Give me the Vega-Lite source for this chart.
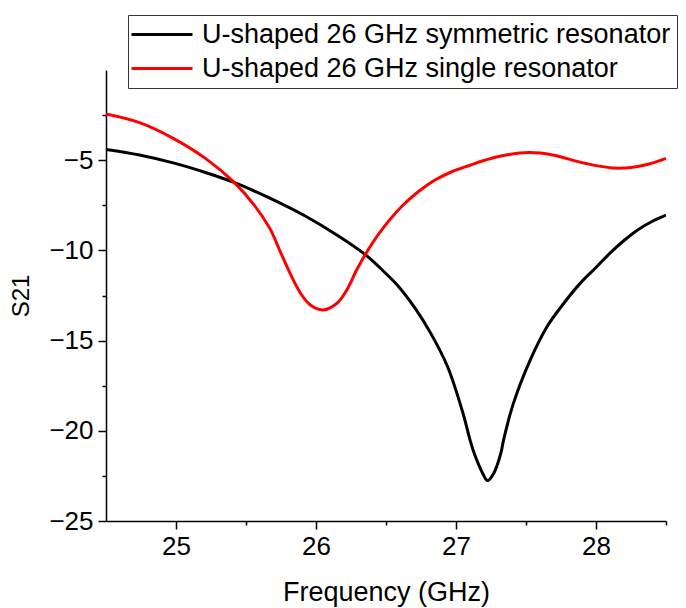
{
  "$schema": "https://vega.github.io/schema/vega-lite/v6.json",
  "width": 560,
  "height": 451,
  "autosize": {"type": "none"},
  "padding": {"left": 106, "top": 70, "right": 20, "bottom": 87},
  "background": "white",
  "config": {
    "view": {"stroke": null},
    "font": "Liberation Sans",
    "axis": {"grid": false, "domainColor": "black", "tickColor": "black", "labelColor": "black", "titleColor": "black", "domainWidth": 1.5, "tickWidth": 1.5, "labelFont": "Liberation Sans", "titleFont": "Liberation Sans", "titleFontWeight": "normal"}
  },
  "data": {
    "values": [
      {"f": 24.5, "s": -4.40, "series": "U-shaped 26 GHz symmetric resonator"},
      {"f": 24.74, "s": -4.71, "series": "U-shaped 26 GHz symmetric resonator"},
      {"f": 24.98, "s": -5.15, "series": "U-shaped 26 GHz symmetric resonator"},
      {"f": 25.21, "s": -5.68, "series": "U-shaped 26 GHz symmetric resonator"},
      {"f": 25.41, "s": -6.22, "series": "U-shaped 26 GHz symmetric resonator"},
      {"f": 25.67, "s": -7.1, "series": "U-shaped 26 GHz symmetric resonator"},
      {"f": 25.92, "s": -8.08, "series": "U-shaped 26 GHz symmetric resonator"},
      {"f": 26.16, "s": -9.2, "series": "U-shaped 26 GHz symmetric resonator"},
      {"f": 26.35, "s": -10.22, "series": "U-shaped 26 GHz symmetric resonator"},
      {"f": 26.46, "s": -10.99, "series": "U-shaped 26 GHz symmetric resonator"},
      {"f": 26.58, "s": -11.92, "series": "U-shaped 26 GHz symmetric resonator"},
      {"f": 26.70, "s": -13.12, "series": "U-shaped 26 GHz symmetric resonator"},
      {"f": 26.82, "s": -14.6, "series": "U-shaped 26 GHz symmetric resonator"},
      {"f": 26.94, "s": -16.45, "series": "U-shaped 26 GHz symmetric resonator"},
      {"f": 27.05, "s": -19.03, "series": "U-shaped 26 GHz symmetric resonator"},
      {"f": 27.10, "s": -20.5, "series": "U-shaped 26 GHz symmetric resonator"},
      {"f": 27.13, "s": -21.25, "series": "U-shaped 26 GHz symmetric resonator"},
      {"f": 27.19, "s": -22.35, "series": "U-shaped 26 GHz symmetric resonator"},
      {"f": 27.225, "s": -22.76, "series": "U-shaped 26 GHz symmetric resonator"},
      {"f": 27.27, "s": -22.35, "series": "U-shaped 26 GHz symmetric resonator"},
      {"f": 27.32, "s": -21.25, "series": "U-shaped 26 GHz symmetric resonator"},
      {"f": 27.34, "s": -20.5, "series": "U-shaped 26 GHz symmetric resonator"},
      {"f": 27.41, "s": -18.48, "series": "U-shaped 26 GHz symmetric resonator"},
      {"f": 27.53, "s": -16.08, "series": "U-shaped 26 GHz symmetric resonator"},
      {"f": 27.65, "s": -14.23, "series": "U-shaped 26 GHz symmetric resonator"},
      {"f": 27.77, "s": -12.93, "series": "U-shaped 26 GHz symmetric resonator"},
      {"f": 27.89, "s": -11.8, "series": "U-shaped 26 GHz symmetric resonator"},
      {"f": 28.0, "s": -10.95, "series": "U-shaped 26 GHz symmetric resonator"},
      {"f": 28.1, "s": -10.15, "series": "U-shaped 26 GHz symmetric resonator"},
      {"f": 28.2, "s": -9.45, "series": "U-shaped 26 GHz symmetric resonator"},
      {"f": 28.3, "s": -8.85, "series": "U-shaped 26 GHz symmetric resonator"},
      {"f": 28.4, "s": -8.4, "series": "U-shaped 26 GHz symmetric resonator"},
      {"f": 28.5, "s": -8.05, "series": "U-shaped 26 GHz symmetric resonator"},
      {"f": 24.5, "s": -2.44, "series": "U-shaped 26 GHz single resonator"},
      {"f": 24.74, "s": -2.92, "series": "U-shaped 26 GHz single resonator"},
      {"f": 24.98, "s": -3.79, "series": "U-shaped 26 GHz single resonator"},
      {"f": 25.21, "s": -4.9, "series": "U-shaped 26 GHz single resonator"},
      {"f": 25.41, "s": -6.19, "series": "U-shaped 26 GHz single resonator"},
      {"f": 25.56, "s": -7.5, "series": "U-shaped 26 GHz single resonator"},
      {"f": 25.67, "s": -8.78, "series": "U-shaped 26 GHz single resonator"},
      {"f": 25.75, "s": -10.16, "series": "U-shaped 26 GHz single resonator"},
      {"f": 25.82, "s": -11.36, "series": "U-shaped 26 GHz single resonator"},
      {"f": 25.89, "s": -12.38, "series": "U-shaped 26 GHz single resonator"},
      {"f": 25.96, "s": -13.03, "series": "U-shaped 26 GHz single resonator"},
      {"f": 26.05, "s": -13.3, "series": "U-shaped 26 GHz single resonator"},
      {"f": 26.15, "s": -12.93, "series": "U-shaped 26 GHz single resonator"},
      {"f": 26.22, "s": -12.2, "series": "U-shaped 26 GHz single resonator"},
      {"f": 26.29, "s": -11.09, "series": "U-shaped 26 GHz single resonator"},
      {"f": 26.35, "s": -10.25, "series": "U-shaped 26 GHz single resonator"},
      {"f": 26.46, "s": -8.96, "series": "U-shaped 26 GHz single resonator"},
      {"f": 26.61, "s": -7.58, "series": "U-shaped 26 GHz single resonator"},
      {"f": 26.73, "s": -6.75, "series": "U-shaped 26 GHz single resonator"},
      {"f": 26.85, "s": -6.10, "series": "U-shaped 26 GHz single resonator"},
      {"f": 26.97, "s": -5.64, "series": "U-shaped 26 GHz single resonator"},
      {"f": 27.1, "s": -5.28, "series": "U-shaped 26 GHz single resonator"},
      {"f": 27.21, "s": -4.99, "series": "U-shaped 26 GHz single resonator"},
      {"f": 27.33, "s": -4.75, "series": "U-shaped 26 GHz single resonator"},
      {"f": 27.52, "s": -4.58, "series": "U-shaped 26 GHz single resonator"},
      {"f": 27.69, "s": -4.71, "series": "U-shaped 26 GHz single resonator"},
      {"f": 27.92, "s": -5.17, "series": "U-shaped 26 GHz single resonator"},
      {"f": 28.16, "s": -5.45, "series": "U-shaped 26 GHz single resonator"},
      {"f": 28.35, "s": -5.27, "series": "U-shaped 26 GHz single resonator"},
      {"f": 28.5, "s": -4.90, "series": "U-shaped 26 GHz single resonator"}
    ]
  },
  "resolve": {"axis": {"x": "independent", "y": "independent"}},
  "layer": [
    {
      "mark": {"type": "line", "interpolate": "catmull-rom", "strokeWidth": 3, "clip": true},
      "encoding": {
        "x": {"field": "f", "type": "quantitative", "scale": {"domain": [24.5, 28.5], "nice": false, "zero": false},
          "axis": {"orient": "bottom", "values": [25, 26, 27, 28], "tickSize": 8, "labelFontSize": 26, "labelPadding": 4, "title": "Frequency (GHz)", "titleFontSize": 27, "titlePadding": 20}},
        "y": {"field": "s", "type": "quantitative", "scale": {"domain": [-25, 0], "nice": false, "zero": false},
          "axis": {"orient": "left", "values": [-25, -20, -15, -10, -5], "tickSize": 8, "labelFontSize": 26, "labelPadding": 5, "title": "S21", "titleFontSize": 24, "titlePadding": 15}},
        "color": {"field": "series", "type": "nominal",
          "scale": {"domain": ["U-shaped 26 GHz symmetric resonator", "U-shaped 26 GHz single resonator"], "range": ["#000000", "#ff0000"]},
          "legend": {"title": null, "orient": "none", "legendX": 22, "legendY": -55, "symbolType": "M-3.2,0H9", "symbolSize": 100, "symbolStrokeWidth": 3, "labelFontSize": 27, "labelColor": "black", "labelOffset": 41, "labelLimit": 0, "padding": 6, "rowPadding": 6, "strokeColor": "#333333", "fillColor": "white"}}
      }
    },
    {
      "mark": {"type": "line", "opacity": 0},
      "encoding": {
        "x": {"field": "f", "type": "quantitative", "axis": {"orient": "bottom", "values": [25.5, 26.5, 27.5, 28.5], "tickSize": 4, "labels": false, "domain": false, "title": null}},
        "y": {"field": "s", "type": "quantitative", "axis": {"orient": "left", "values": [-22.5, -17.5, -12.5, -7.5, -2.5], "tickSize": 4, "labels": false, "domain": false, "title": null}},
        "detail": {"field": "series"}
      }
    }
  ]
}
